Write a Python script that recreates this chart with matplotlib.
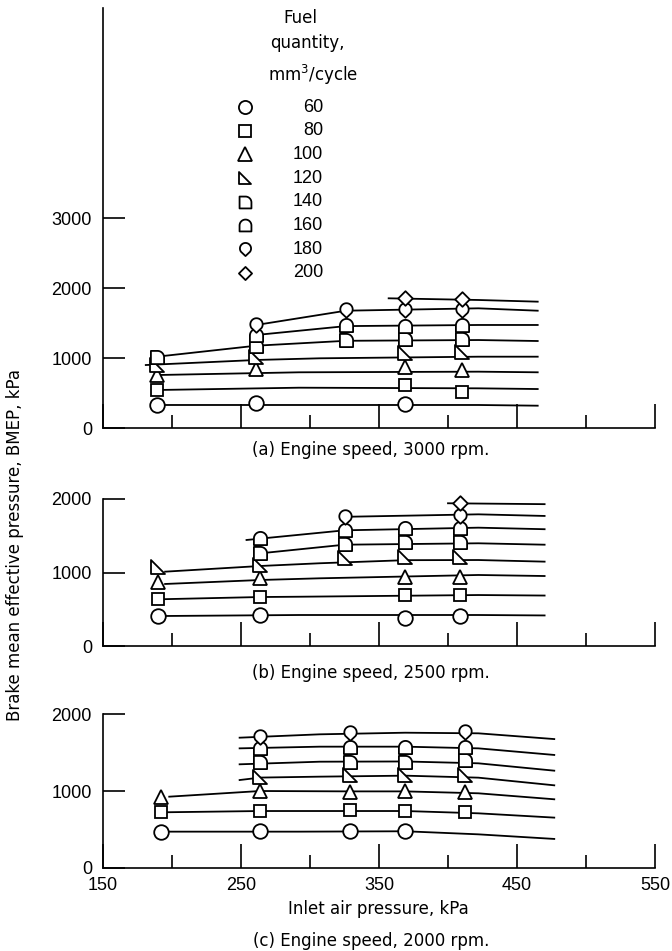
import numpy as np
import matplotlib
matplotlib.use('Agg')
import matplotlib.pyplot as plt
from matplotlib.path import Path
from matplotlib import font_manager

# fuel quantity, mm3/cycle (one series each)
fuel = [60, 80, 100, 120, 140, 160, 180, 200]
captions = ['(a) Engine speed, 3000 rpm.', '(b) Engine speed, 2500 rpm.', '(c) Engine speed, 2000 rpm.']
xticks_major = [150, 250, 350, 450, 550]
xticks_minor = [200, 300, 400, 500]

# --- 3000 rpm: measured points (inlet pressure kPa, BMEP kPa)
mark_3000_x = [[189, 261, 369], [189, 369, 410], [189, 261, 369, 410], [189, 261, 369, 410],
               [189, 261, 326, 369, 410], [261, 326, 369, 410], [261, 326, 369, 410], [369, 410]]
mark_3000_y = [[333, 357, 343], [547, 619, 523], [761, 843, 880, 833], [904, 1023, 1071, 1086],
               [1023, 1180, 1261, 1276, 1276], [1333, 1476, 1466, 1476], [1476, 1690, 1690, 1690], [1857, 1847]]
# faired curves
fair_3000_x = [[189, 292, 422, 465], [189, 292, 422, 465], [189, 292, 422, 465], [181, 261, 307, 422, 465],
               [189, 261, 326, 422, 465], [261, 326, 422, 465], [261, 326, 422, 465], [357, 422, 465]]
fair_3000_y = [[333, 333, 333, 323], [547, 580, 571, 561], [761, 800, 809, 800], [904, 976, 1000, 1023, 1023],
               [1023, 1180, 1250, 1261, 1247], [1333, 1460, 1476, 1476], [1476, 1680, 1714, 1680],
               [1857, 1833, 1809]]

# --- 2500 rpm
mark_2500_x = [[190, 264, 369, 409], [190, 264, 369, 409], [190, 264, 369, 409], [190, 264, 325, 369, 409],
               [264, 325, 369, 409], [264, 325, 369, 409], [325, 409], [409]]
mark_2500_y = [[412, 426, 389, 412], [639, 674, 697, 697], [870, 924, 946, 946], [1081, 1104, 1204, 1217, 1217],
               [1263, 1385, 1421, 1421], [1467, 1579, 1611, 1611], [1760, 1773], [1942]]
fair_2500_x = [[190, 292, 422, 470], [190, 264, 292, 422, 470], [195, 264, 307, 422, 470],
               [195, 264, 307, 369, 422, 470], [264, 325, 422, 470], [254, 325, 422, 470],
               [330, 422, 470], [400, 470]]
fair_2500_y = [[412, 426, 426, 420], [639, 670, 674, 697, 690], [847, 901, 924, 969, 955],
               [1014, 1091, 1128, 1170, 1172, 1150], [1263, 1380, 1399, 1380], [1444, 1575, 1611, 1590],
               [1760, 1792, 1770], [1942, 1930]]

# --- 2000 rpm
mark_2000_x = [[192, 264, 329, 369], [192, 264, 329, 369, 412], [192, 264, 329, 369, 412], [264, 329, 369, 412],
               [264, 329, 369, 412], [264, 329, 369, 412], [264, 329, 412], []]
mark_2000_y = [[470, 479, 479, 479], [722, 739, 752, 739, 730], [926, 1000, 991, 1000, 983], [1187, 1209, 1209, 1209],
               [1382, 1382, 1382, 1404], [1556, 1578, 1578, 1578], [1708, 1761, 1773], []]
fair_2000_x = [[192, 292, 369, 422, 477], [192, 264, 369, 422, 477], [198, 264, 329, 369, 422, 477],
               [249, 264, 307, 369, 422, 477], [249, 307, 369, 422, 477], [249, 307, 369, 422, 477],
               [249, 307, 369, 422, 477], []]
fair_2000_y = [[470, 470, 475, 435, 375], [722, 739, 739, 709, 653], [926, 1000, 995, 995, 970, 892],
               [1143, 1175, 1187, 1200, 1174, 1074], [1348, 1382, 1385, 1361, 1265], [1556, 1578, 1578, 1556, 1470],
               [1695, 1739, 1760, 1752, 1677], []]


def arc(cx, cy, r, t0, t1, n=24):
    t = np.radians(np.linspace(t0, t1, n))
    return list(zip(cx + r * np.cos(t), cy + r * np.sin(t)))


def poly(pts):
    pts = list(pts) + [pts[0]]
    codes = [Path.MOVETO] + [Path.LINETO] * (len(pts) - 2) + [Path.CLOSEPOLY]
    return Path(pts, codes)


rtri = poly([(-1, 1), (-1, -1), (1, -1)])
quarter = poly([(-1, -1), (1, -1), (1, 0)] + arc(0, 0, 1, 0, 90) + [(-1, 1)])
dome = poly([(-1, -1), (1, -1)] + arc(0, 0, 1, 0, 180))
drop = poly(arc(0, 0.15, 0.85, -35, 215) + [(0, -1)])
diamond = poly([(0, 1), (1, 0), (0, -1), (-1, 0)])
markers = ['o', 's', '^', rtri, quarter, dome, drop, diamond]
msizes = [10.5, 9.3, 10.5, 9.5, 9.5, 9.5, 10.5, 10.5]

names = {f.name for f in font_manager.fontManager.ttflist}
num_font = 'Liberation Sans Narrow' if 'Liberation Sans Narrow' in names else 'Liberation Sans'
txt_font = 'DejaVu Sans'

fig = plt.figure(figsize=(6.72, 9.51), dpi=100)
W, H = 672, 951
left, width = 103 / W, 552 / W
ax_a = fig.add_axes([left, 1 - 428.3 / H, width, 420 / H])
ax_b = fig.add_axes([left, 1 - 646.4 / H, width, 147.4 / H])
ax_c = fig.add_axes([left, 1 - 867.7 / H, width, 153.4 / H])

panels = [(ax_a, 6000, [0, 1000, 2000, 3000], mark_3000_x, mark_3000_y, fair_3000_x, fair_3000_y),
          (ax_b, 2000, [0, 1000, 2000], mark_2500_x, mark_2500_y, fair_2500_x, fair_2500_y),
          (ax_c, 2000, [0, 1000, 2000], mark_2000_x, mark_2000_y, fair_2000_x, fair_2000_y)]

for ax, top, yt, mx, my, fx, fy in panels:
    ax.set_xlim(150, 550)
    ax.set_ylim(0, top)
    ax.spines[['top', 'right']].set_visible(False)
    for s in ['left', 'bottom']:
        ax.spines[s].set_linewidth(1.2)
    ax.set_xticks(xticks_major)
    ax.set_xticks(xticks_minor, minor=True)
    ax.set_yticks(yt)
    ax.tick_params(axis='x', which='major', direction='in', length=17, width=1.2, pad=7)
    ax.tick_params(axis='x', which='minor', direction='in', length=9.5, width=1.2)
    ax.tick_params(axis='y', direction='in', length=16, width=1.2, pad=8)
    for lab in ax.get_yticklabels() + ax.get_xticklabels():
        lab.set_fontfamily(num_font)
        lab.set_fontsize(13)
    for i, q in enumerate(fuel):
        if fx[i]:
            ax.plot(fx[i], fy[i], '-', color='black', lw=1.3, zorder=2)
        if mx[i]:
            ax.plot(mx[i], my[i], ls='none', marker=markers[i], ms=msizes[i], mfc='white',
                    mec='black', mew=1.3, zorder=3, clip_on=False)

ax_a.tick_params(axis='x', labelbottom=False)
ax_b.tick_params(axis='x', labelbottom=False)

# legend drawn in panel (a)
ax_a.text(0.357, 0.976, 'Fuel', transform=ax_a.transAxes, ha='center', va='center',
          fontsize=12, family=txt_font)
ax_a.text(0.370, 0.917, 'quantity,', transform=ax_a.transAxes, ha='center', va='center',
          fontsize=12, family=txt_font)
ax_a.text(0.381, 0.841, 'mm$^3$/cycle', transform=ax_a.transAxes, ha='center', va='center',
          fontsize=12, family=txt_font)
for i, q in enumerate(fuel):
    yy = 0.765 - i * 0.0564
    ax_a.plot([0.257], [yy], transform=ax_a.transAxes, ls='none', marker=markers[i],
              ms=msizes[i] * 0.9, mfc='white', mec='black', mew=1.3, clip_on=False)
    ax_a.text(0.399, yy, str(q), transform=ax_a.transAxes, ha='right', va='center',
              fontsize=13, family=num_font)

cap_y = [1 - 450 / H, 1 - 673 / H, 1 - 941 / H]
for c, y in zip(captions, cap_y):
    fig.text(371 / W, y, c, ha='center', va='center', fontsize=12, family=txt_font)

fig.text(378 / W, 1 - 909 / H, 'Inlet air pressure, kPa', ha='center', va='center',
         fontsize=12, family=txt_font)
fig.text(15 / W, 1 - 545 / H, 'Brake mean effective pressure, BMEP, kPa', rotation=90,
         ha='center', va='center', fontsize=12, family=txt_font)

fig.savefig('out.png', dpi=100)
